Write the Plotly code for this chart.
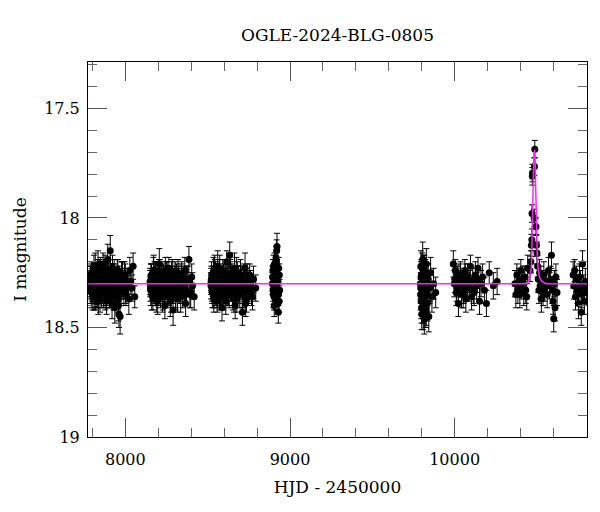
import plotly.graph_objects as go

# OGLE-2024-BLG-0805 light curve

# season 1
t1 = [7786, 7789, 7793, 7796, 7800, 7803, 7807, 7810, 7814, 7817,
      7821, 7825, 7828, 7832, 7836, 7840, 7844, 7848, 7852, 7856,
      7860, 7865, 7869, 7874, 7878, 7883, 7888, 7893, 7898, 7903,
      7908, 7913, 7919, 7924, 7930, 7936, 7942, 7948, 7954, 7961,
      7968, 7975, 7983, 7991, 8000, 8010, 8021, 8033, 8047, 8057,
      7788, 7791, 7795, 7798, 7802, 7805, 7809, 7812, 7816, 7819,
      7823, 7827, 7830, 7834, 7838, 7842, 7846, 7850, 7854, 7858,
      7863, 7867, 7872, 7876, 7881, 7886, 7891, 7896, 7901, 7906,
      7911, 7916, 7922, 7927, 7933, 7939, 7945, 7951, 7958, 7965,
      7972, 7979, 7987, 7995, 8004, 8015, 8027, 8040,
      7787, 7792, 7799, 7806, 7813, 7820, 7826, 7833, 7839, 7845,
      7851, 7857, 7862, 7868, 7873, 7879, 7884, 7890, 7895, 7900,
      7905, 7910, 7915, 7921, 7926, 7932, 7938, 7944, 7950, 7956,
      7963, 7970, 7977, 7985, 7993, 8002]
m1 = [18.31, 18.27, 18.34, 18.29, 18.25, 18.33, 18.30, 18.36, 18.28, 18.22,
      18.31, 18.35, 18.26, 18.30, 18.38, 18.29, 18.24, 18.32, 18.27, 18.34,
      18.30, 18.21, 18.33, 18.28, 18.36, 18.25, 18.31, 18.19, 18.29, 18.35,
      18.15, 18.32, 18.39, 18.26, 18.30, 18.41, 18.33, 18.28, 18.24, 18.44,
      18.45, 18.30, 18.27, 18.34, 18.26, 18.31, 18.37, 18.29, 18.22, 18.36,
      18.28, 18.33, 18.25, 18.31, 18.36, 18.29, 18.23, 18.32, 18.27, 18.35,
      18.30, 18.26, 18.34, 18.21, 18.31, 18.28, 18.37, 18.25, 18.30, 18.33,
      18.27, 18.35, 18.29, 18.24, 18.32, 18.38, 18.26, 18.31, 18.29, 18.34,
      18.27, 18.30, 18.23, 18.36, 18.28, 18.32, 18.35, 18.25, 18.40, 18.29,
      18.33, 18.27, 18.31, 18.26, 18.35, 18.29, 18.24, 18.32,
      18.30, 18.26, 18.32, 18.28, 18.34, 18.29, 18.31, 18.25, 18.33, 18.30,
      18.27, 18.32, 18.29, 18.35, 18.26, 18.30, 18.33, 18.28, 18.24, 18.31,
      18.36, 18.29, 18.27, 18.32, 18.30, 18.25, 18.34, 18.28, 18.31, 18.37,
      18.29, 18.33, 18.26, 18.30, 18.28, 18.33]
e1 = [0.06, 0.05, 0.07, 0.06, 0.05, 0.06, 0.07, 0.06, 0.05, 0.06,
      0.07, 0.06, 0.05, 0.06, 0.06, 0.07, 0.05, 0.06, 0.06, 0.07,
      0.06, 0.05, 0.06, 0.07, 0.06, 0.06, 0.05, 0.07, 0.06, 0.06,
      0.07, 0.06, 0.07, 0.05, 0.06, 0.07, 0.06, 0.06, 0.05, 0.06,
      0.08, 0.06, 0.07, 0.06, 0.05, 0.06, 0.07, 0.06, 0.06, 0.05,
      0.06, 0.06, 0.05, 0.07, 0.06, 0.06, 0.06, 0.05, 0.06, 0.07,
      0.06, 0.06, 0.07, 0.06, 0.05, 0.06, 0.06, 0.07, 0.06, 0.06,
      0.05, 0.06, 0.06, 0.07, 0.06, 0.06, 0.06, 0.05, 0.06, 0.07,
      0.06, 0.06, 0.06, 0.06, 0.07, 0.05, 0.06, 0.06, 0.07, 0.06,
      0.06, 0.07, 0.06, 0.06, 0.05, 0.06, 0.06, 0.06,
      0.06, 0.05, 0.06, 0.06, 0.07, 0.06, 0.05, 0.06, 0.06, 0.06,
      0.07, 0.06, 0.06, 0.05, 0.06, 0.06, 0.07, 0.06, 0.06, 0.06,
      0.05, 0.06, 0.06, 0.07, 0.06, 0.06, 0.06, 0.05, 0.06, 0.06,
      0.07, 0.06, 0.06, 0.06, 0.05, 0.06]

# season 2
t2 = [8150, 8154, 8158, 8163, 8167, 8172, 8176, 8181, 8186, 8191,
      8196, 8201, 8206, 8211, 8217, 8222, 8228, 8234, 8240, 8246,
      8252, 8258, 8264, 8270, 8277, 8283, 8290, 8296, 8303, 8310,
      8317, 8324, 8332, 8340, 8348, 8357, 8366, 8376, 8386, 8397,
      8408, 8418,
      8152, 8156, 8160, 8165, 8170, 8174, 8179, 8184, 8188, 8193,
      8198, 8203, 8209, 8214, 8219, 8225, 8231, 8237, 8243, 8249,
      8255, 8261, 8267, 8273, 8280, 8286, 8293, 8300, 8306, 8313,
      8320, 8328, 8336, 8344, 8352, 8361, 8371, 8381, 8392, 8403,
      8151, 8157, 8162, 8168, 8173, 8178, 8183, 8189, 8194, 8199,
      8204, 8208, 8213, 8218, 8223, 8229, 8235, 8241, 8247, 8253,
      8259, 8265, 8271, 8278, 8285, 8291, 8298, 8305, 8311, 8318,
      8326, 8334, 8342, 8350, 8359, 8369]
m2 = [18.29, 18.33, 18.26, 18.31, 18.36, 18.24, 18.30, 18.34, 18.27, 18.32,
      18.38, 18.28, 18.21, 18.33, 18.30, 18.26, 18.35, 18.29, 18.40, 18.31,
      18.27, 18.34, 18.23, 18.30, 18.36, 18.28, 18.42, 18.32, 18.25, 18.31,
      18.37, 18.29, 18.33, 18.26, 18.35, 18.30, 18.39, 18.28, 18.19, 18.34,
      18.31, 18.36,
      18.32, 18.27, 18.35, 18.29, 18.24, 18.33, 18.30, 18.26, 18.37, 18.31,
      18.28, 18.34, 18.25, 18.31, 18.29, 18.36, 18.27, 18.32, 18.24, 18.30,
      18.35, 18.28, 18.31, 18.38, 18.26, 18.33, 18.29, 18.27, 18.34, 18.30,
      18.25, 18.32, 18.36, 18.28, 18.31, 18.24, 18.33, 18.29, 18.35, 18.27,
      18.30, 18.27, 18.33, 18.29, 18.31, 18.26, 18.34, 18.30, 18.28, 18.32,
      18.25, 18.30, 18.35, 18.28, 18.32, 18.27, 18.30, 18.33, 18.29, 18.26,
      18.31, 18.34, 18.28, 18.30, 18.25, 18.32, 18.29, 18.36, 18.27, 18.31,
      18.29, 18.33, 18.27, 18.30, 18.32, 18.28]
e2 = [0.06, 0.07, 0.05, 0.06, 0.06, 0.07, 0.05, 0.06, 0.07, 0.06,
      0.06, 0.05, 0.07, 0.06, 0.06, 0.06, 0.07, 0.05, 0.06, 0.06,
      0.07, 0.06, 0.05, 0.06, 0.07, 0.06, 0.07, 0.06, 0.05, 0.06,
      0.06, 0.07, 0.06, 0.05, 0.06, 0.07, 0.06, 0.06, 0.06, 0.07,
      0.06, 0.06,
      0.06, 0.06, 0.07, 0.05, 0.06, 0.06, 0.07, 0.06, 0.06, 0.05,
      0.07, 0.06, 0.06, 0.06, 0.05, 0.07, 0.06, 0.06, 0.06, 0.07,
      0.06, 0.05, 0.06, 0.07, 0.06, 0.06, 0.06, 0.05, 0.07, 0.06,
      0.06, 0.06, 0.07, 0.06, 0.05, 0.06, 0.06, 0.07, 0.06, 0.06,
      0.06, 0.06, 0.05, 0.06, 0.07, 0.06, 0.06, 0.06, 0.05, 0.06,
      0.06, 0.07, 0.06, 0.06, 0.06, 0.05, 0.06, 0.06, 0.07, 0.06,
      0.06, 0.06, 0.05, 0.06, 0.06, 0.07, 0.06, 0.06, 0.06, 0.05,
      0.06, 0.06, 0.07, 0.06, 0.06, 0.06]

# season 3
t3 = [8520, 8524, 8528, 8533, 8537, 8542, 8546, 8551, 8556, 8561,
      8566, 8571, 8576, 8581, 8587, 8592, 8598, 8604, 8610, 8616,
      8622, 8628, 8634, 8640, 8647, 8653, 8660, 8667, 8674, 8681,
      8688, 8695, 8703, 8711, 8719, 8727, 8736, 8745, 8755, 8766,
      8778, 8792,
      8522, 8526, 8530, 8535, 8539, 8544, 8548, 8553, 8558, 8563,
      8568, 8573, 8578, 8584, 8589, 8595, 8601, 8607, 8613, 8619,
      8625, 8631, 8637, 8643, 8650, 8656, 8663, 8670, 8677, 8684,
      8691, 8699, 8707, 8715, 8723, 8731, 8740, 8750, 8760, 8772,
      8521, 8527, 8532, 8538, 8543, 8549, 8554, 8559, 8564, 8570,
      8575, 8580, 8586, 8591, 8597, 8603, 8609, 8615, 8621, 8627,
      8633, 8639, 8645, 8652, 8659, 8666, 8673, 8680, 8687, 8694,
      8702, 8710, 8718, 8726, 8735, 8744]
m3 = [18.31, 18.26, 18.34, 18.29, 18.37, 18.24, 18.32, 18.28, 18.35, 18.22,
      18.30, 18.36, 18.27, 18.33, 18.41, 18.25, 18.31, 18.29, 18.38, 18.20,
      18.34, 18.28, 18.17, 18.32, 18.26, 18.36, 18.30, 18.40, 18.24, 18.33,
      18.29, 18.35, 18.27, 18.43, 18.31, 18.23, 18.37, 18.30, 18.26, 18.34,
      18.28, 18.32,
      18.28, 18.33, 18.30, 18.25, 18.35, 18.29, 18.26, 18.32, 18.38, 18.27,
      18.31, 18.24, 18.34, 18.29, 18.27, 18.36, 18.30, 18.25, 18.33, 18.29,
      18.31, 18.35, 18.26, 18.28, 18.34, 18.30, 18.23, 18.32, 18.37, 18.28,
      18.33, 18.26, 18.30, 18.35, 18.29, 18.39, 18.27, 18.32, 18.30, 18.36,
      18.29, 18.33, 18.27, 18.31, 18.26, 18.34, 18.30, 18.28, 18.32, 18.25,
      18.30, 18.35, 18.28, 18.31, 18.26, 18.33, 18.29, 18.31, 18.27, 18.34,
      18.30, 18.25, 18.32, 18.29, 18.36, 18.28, 18.31, 18.26, 18.33, 18.30,
      18.28, 18.34, 18.27, 18.31, 18.29, 18.33]
e3 = [0.06, 0.06, 0.07, 0.05, 0.06, 0.07, 0.06, 0.05, 0.06, 0.07,
      0.06, 0.06, 0.05, 0.07, 0.06, 0.06, 0.07, 0.06, 0.06, 0.05,
      0.06, 0.07, 0.06, 0.06, 0.05, 0.06, 0.07, 0.06, 0.06, 0.06,
      0.07, 0.06, 0.05, 0.06, 0.06, 0.07, 0.06, 0.06, 0.05, 0.06,
      0.06, 0.06,
      0.06, 0.05, 0.06, 0.07, 0.06, 0.06, 0.06, 0.07, 0.05, 0.06,
      0.06, 0.07, 0.06, 0.06, 0.05, 0.06, 0.07, 0.06, 0.06, 0.06,
      0.05, 0.06, 0.07, 0.06, 0.06, 0.06, 0.07, 0.05, 0.06, 0.06,
      0.06, 0.07, 0.06, 0.06, 0.05, 0.06, 0.06, 0.07, 0.06, 0.06,
      0.06, 0.06, 0.05, 0.06, 0.07, 0.06, 0.06, 0.05, 0.06, 0.06,
      0.07, 0.06, 0.06, 0.06, 0.05, 0.06, 0.06, 0.07, 0.06, 0.06,
      0.06, 0.05, 0.06, 0.06, 0.07, 0.06, 0.06, 0.06, 0.05, 0.06,
      0.06, 0.07, 0.06, 0.06, 0.06, 0.05]

# season 4
t4 = [8893, 8896, 8899, 8901, 8904, 8906, 8909, 8911, 8913, 8915,
      8917, 8919, 8921, 8923, 8925, 8927, 8929, 8931, 8934, 8937,
      8894, 8897, 8900, 8903, 8907, 8910, 8914, 8918, 8922, 8926,
      8930, 8935]
m4 = [18.30, 18.24, 18.35, 18.28, 18.40, 18.21, 18.32, 18.27, 18.37, 18.18,
      18.31, 18.15, 18.13, 18.26, 18.34, 18.29, 18.43, 18.23, 18.38, 18.33,
      18.27, 18.33, 18.22, 18.36, 18.29, 18.25, 18.31, 18.20, 18.28, 18.39,
      18.35, 18.26]
e4 = [0.05, 0.05, 0.06, 0.05, 0.05, 0.05, 0.06, 0.05, 0.05, 0.05,
      0.05, 0.05, 0.06, 0.05, 0.05, 0.05, 0.05, 0.05, 0.05, 0.05,
      0.05, 0.05, 0.05, 0.06, 0.05, 0.05, 0.05, 0.05, 0.05, 0.05,
      0.05, 0.05]

# season 5
t5 = [9792, 9795, 9797, 9800, 9802, 9804, 9806, 9808, 9810, 9812,
      9814, 9816, 9818, 9820, 9822, 9825, 9828, 9831, 9835, 9839,
      9843, 9848, 9854, 9862, 9872, 9885,
      9793, 9796, 9799, 9801, 9803, 9805, 9807, 9809, 9811, 9813,
      9815, 9819, 9824, 9830,
      9794, 9798, 9801, 9806, 9810, 9815, 9821, 9827, 9837, 9850]
m5 = [18.30, 18.22, 18.38, 18.44, 18.27, 18.33, 18.19, 18.41, 18.29, 18.35,
      18.24, 18.46, 18.31, 18.37, 18.26, 18.43, 18.21, 18.34, 18.39, 18.28,
      18.45, 18.32, 18.25, 18.36, 18.30, 18.34,
      18.35, 18.27, 18.41, 18.31, 18.23, 18.38, 18.29, 18.44, 18.26, 18.33,
      18.40, 18.28, 18.36, 18.31,
      18.32, 18.26, 18.36, 18.29, 18.39, 18.24, 18.33, 18.42, 18.28, 18.31]
e5 = [0.07, 0.07, 0.08, 0.07, 0.07, 0.07, 0.08, 0.07, 0.07, 0.08,
      0.07, 0.07, 0.07, 0.08, 0.07, 0.07, 0.07, 0.07, 0.08, 0.07,
      0.07, 0.07, 0.07, 0.07, 0.07, 0.07,
      0.07, 0.07, 0.07, 0.08, 0.07, 0.07, 0.07, 0.07, 0.08, 0.07,
      0.07, 0.07, 0.07, 0.07,
      0.07, 0.07, 0.08, 0.07, 0.07, 0.07, 0.07, 0.07, 0.07, 0.07]

# season 6
t6 = [9992, 9998, 10004, 10010, 10016, 10023, 10029, 10036, 10042, 10049,
      10055, 10062, 10068, 10075, 10082, 10089, 10096, 10103, 10110, 10118,
      10126, 10134, 10142, 10151, 10160, 10170, 10181, 10193, 10210, 10235,
      10258,
      10001, 10013, 10026, 10039, 10052, 10065, 10079, 10093, 10114, 10138]
m6 = [18.21, 18.30, 18.24, 18.34, 18.28, 18.39, 18.31, 18.26, 18.35, 18.29,
      18.33, 18.24, 18.37, 18.30, 18.27, 18.32, 18.22, 18.36, 18.29, 18.34,
      18.26, 18.31, 18.23, 18.38, 18.30, 18.27, 18.33, 18.39, 18.25, 18.31,
      18.29,
      18.28, 18.32, 18.26, 18.30, 18.35, 18.27, 18.31, 18.29, 18.33, 18.28]
e6 = [0.06, 0.06, 0.05, 0.06, 0.06, 0.06, 0.05, 0.06, 0.06, 0.06,
      0.06, 0.05, 0.06, 0.06, 0.06, 0.06, 0.05, 0.06, 0.06, 0.06,
      0.06, 0.06, 0.05, 0.06, 0.06, 0.06, 0.06, 0.06, 0.05, 0.06,
      0.06,
      0.06, 0.06, 0.05, 0.06, 0.06, 0.06, 0.06, 0.05, 0.06, 0.06]

# season 7 (event)
t7 = [10366, 10372, 10378, 10384, 10390, 10396, 10402, 10408, 10414, 10420,
      10426, 10432, 10438, 10444, 10458, 10463, 10466, 10469, 10470, 10472,
      10473, 10485, 10487, 10483, 10494, 10497, 10500, 10504, 10508, 10512,
      10516, 10520, 10524, 10527, 10532, 10537, 10542, 10548, 10555, 10562,
      10570, 10577, 10583, 10588, 10593, 10598, 10602, 10606, 10610, 10615,
      10622]
m7 = [18.30, 18.35, 18.26, 18.33, 18.29, 18.35, 18.24, 18.31, 18.28, 18.34,
      18.27, 18.33, 18.36, 18.23, 18.24, 18.20, 18.125, 18.10, 17.98, 17.81,
      17.795, 17.765, 17.686, 18.00, 18.04, 18.125, 18.16, 18.22, 18.28, 18.33,
      18.25, 18.31, 18.27, 18.37, 18.30, 18.34, 18.26, 18.32, 18.29, 18.35,
      18.24, 18.31, 18.28, 18.17, 18.33, 18.38, 18.46, 18.30, 18.41, 18.27,
      18.34]
e7 = [0.06, 0.06, 0.05, 0.06, 0.06, 0.06, 0.05, 0.06, 0.06, 0.06,
      0.05, 0.06, 0.06, 0.06, 0.05, 0.05, 0.05, 0.05, 0.04, 0.04,
      0.04, 0.04, 0.04, 0.04, 0.04, 0.05, 0.05, 0.05, 0.06, 0.06,
      0.06, 0.06, 0.05, 0.06, 0.06, 0.06, 0.06, 0.06, 0.05, 0.06,
      0.06, 0.06, 0.06, 0.06, 0.06, 0.06, 0.06, 0.06, 0.06, 0.06,
      0.06]

# season 8
t8 = [10720, 10724, 10729, 10734, 10740, 10746, 10752, 10758, 10764, 10769,
      10773, 10777, 10782, 10788, 10794, 10800]
m8 = [18.26, 18.31, 18.24, 18.36, 18.28, 18.33, 18.39, 18.27, 18.30, 18.43,
      18.35, 18.21, 18.32, 18.38, 18.29, 18.34]
e8 = [0.06, 0.06, 0.05, 0.06, 0.06, 0.06, 0.07, 0.06, 0.06, 0.06,
      0.06, 0.06, 0.06, 0.06, 0.06, 0.06]

# model curve
model_t = [7773, 10430, 10445, 10456, 10462, 10467, 10470, 10473, 10477,
           10481, 10486, 10489, 10492, 10495, 10498, 10502, 10507, 10515,
           10525, 10540, 10560, 10804]
model_m = [18.30, 18.30, 18.295, 18.27, 18.25, 18.21, 18.10, 17.90, 17.78,
           17.71, 17.69, 17.72, 17.85, 17.98, 18.07, 18.17, 18.23, 18.27,
           18.285, 18.295, 18.30, 18.30]

hjd = t1 + t2 + t3 + t4 + t5 + t6 + t7 + t8
mag = m1 + m2 + m3 + m4 + m5 + m6 + m7 + m8
err = e1 + e2 + e3 + e4 + e5 + e6 + e7 + e8

FONT = "DejaVu Serif"

fig = go.Figure()
fig.add_trace(go.Scatter(
    x=hjd, y=mag, mode="markers",
    marker=dict(size=7, color="black"),
    error_y=dict(type="data", array=err, color="black", thickness=1, width=3),
    hoverinfo="skip"))
fig.add_trace(go.Scatter(
    x=model_t, y=model_m, mode="lines",
    line=dict(color="#ff22ff", width=1.5),
    hoverinfo="skip"))

axis_common = dict(
    showline=True, linecolor="black", linewidth=1, mirror="allticks",
    ticks="inside", ticklen=19, tickwidth=1, tickcolor="#555",
    showgrid=False, zeroline=False, automargin=False,
    tickfont=dict(family=FONT, size=16, color="black"),
)

fig.update_xaxes(
    range=[7773, 10804], dtick=1000, tickformat="d", ticklabelstandoff=8,
    minor=dict(dtick=200, ticks="inside", ticklen=9, tickcolor="#666"),
    title=dict(text="HJD - 2450000", font=dict(family=FONT, size=17, color="black"),
               standoff=12),
    **axis_common)
fig.update_yaxes(
    range=[19, 17.288], dtick=0.5, ticklabelstandoff=4,
    minor=dict(dtick=0.1, ticks="inside", ticklen=9, tickcolor="#666"),
    title=dict(text="I magnitude", font=dict(family=FONT, size=17, color="black"),
               standoff=13),
    **axis_common)

# the page adds an 8 px body margin, so the figure is drawn 8 px smaller
fig.update_layout(
    width=592, height=504,
    margin=dict(l=80, r=13, t=54, b=75),
    plot_bgcolor="white", paper_bgcolor="white",
    showlegend=False,
    title=dict(text="OGLE-2024-BLG-0805", x=0.5, xref="paper",
               y=1 - 27 / 504, yref="container", yanchor="middle",
               font=dict(family=FONT, size=17, color="black")),
)

fig.write_html("out.html")
